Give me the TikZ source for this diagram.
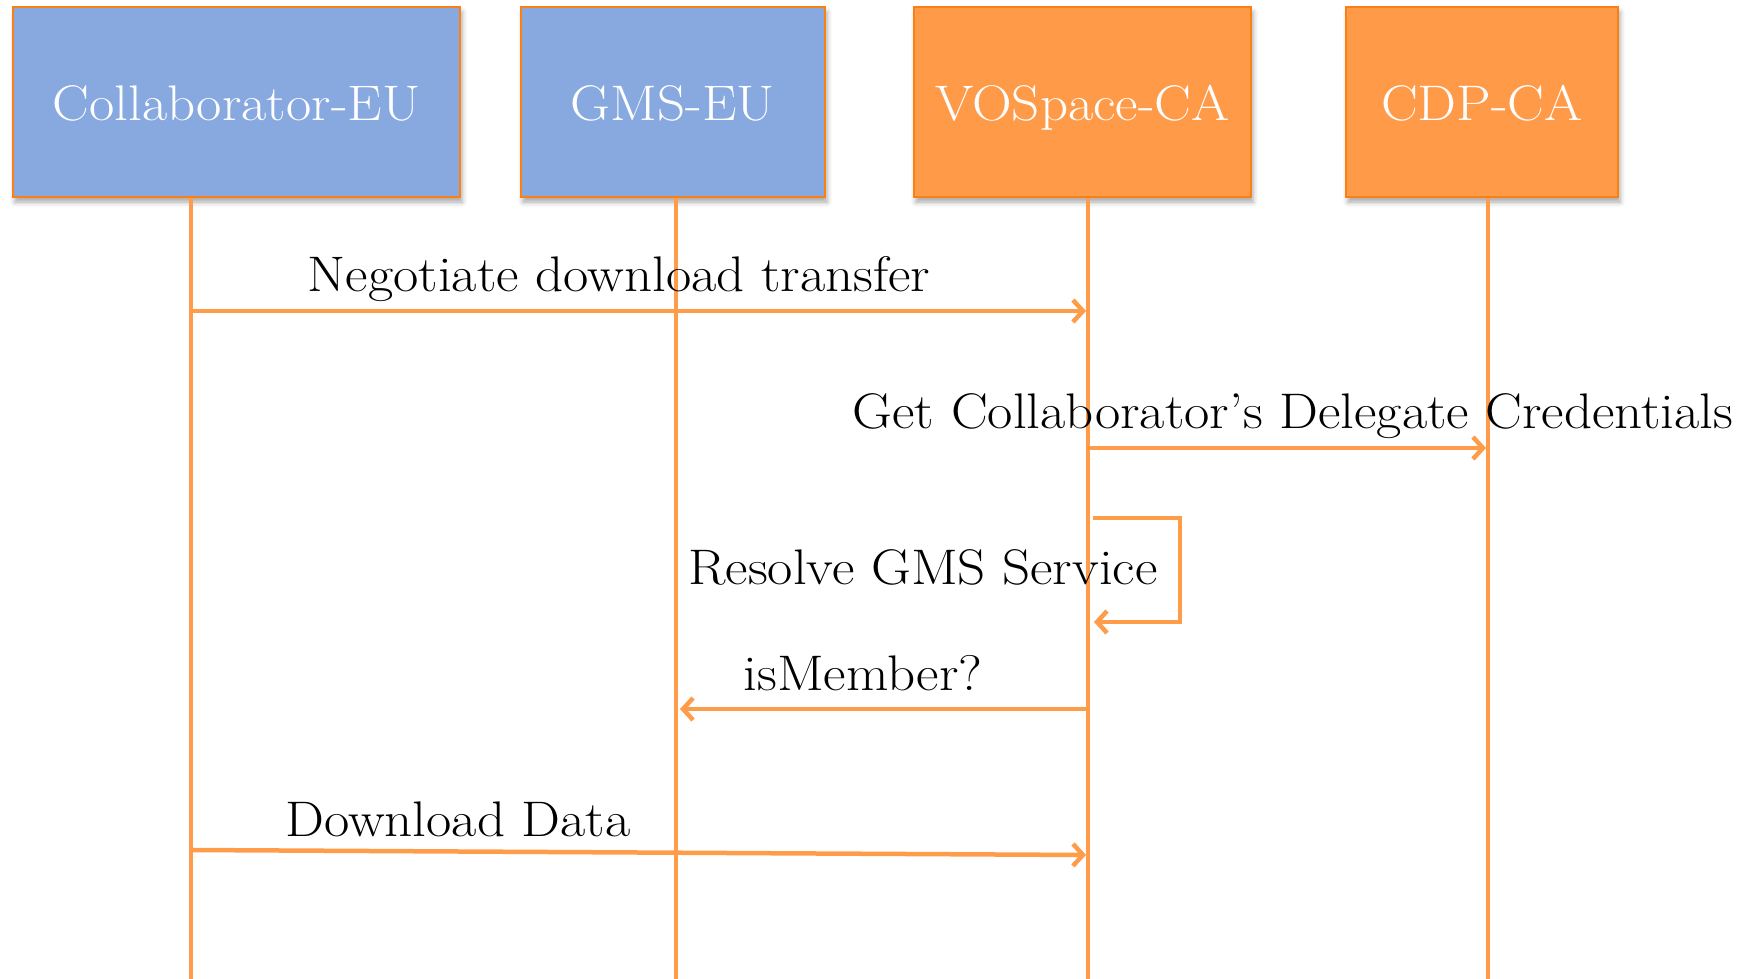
\documentclass[tikz,border=0pt]{standalone}
\usepackage{graphicx}
\usetikzlibrary{arrows.meta,shadows.blur}
\definecolor{actorblue}{RGB}{135,169,224}
\definecolor{actororange}{RGB}{255,154,72}
\definecolor{edgeorange}{RGB}{250,128,20}
\definecolor{lineorange}{RGB}{255,156,74}
% slightly widened serif text
\newcommand{\widetext}[1]{\scalebox{1.1}[1]{#1}}
\tikzset{
  actor/.style={draw=edgeorange, line width=2.5pt, minimum height=190pt,
    text=white, font=\fontsize{50}{54}\selectfont,
    text height=38pt, text depth=0pt,
    blur shadow={shadow xshift=2pt, shadow yshift=-5pt, shadow blur radius=5pt, shadow opacity=35}},
  lifeline/.style={draw=lineorange, line width=4.5pt},
  msg/.style={draw=lineorange, line width=4.5pt,
    -{Straight Barb[length=10pt,width=22pt,line width=4.5pt]}},
  msglabel/.style={font=\fontsize{50}{54}\selectfont, text=black, inner sep=0pt, anchor=base}
}
\begin{document}
\begin{tikzpicture}[x=1pt,y=-1pt]
  \useasboundingbox (0,0) rectangle (1743,979);

  % participants
  \node[actor, fill=actorblue,   minimum width=447pt] (collab) at (236.5,102) {\widetext{Collaborator-EU}};
  \node[actor, fill=actorblue,   minimum width=304pt] (gms)    at (673,102)   {\widetext{GMS-EU}};
  \node[actor, fill=actororange, minimum width=337pt] (vos)    at (1082.5,102){\widetext{VOSpace-CA}};
  \node[actor, fill=actororange, minimum width=272pt] (cdp)    at (1482,102)  {\widetext{CDP-CA}};

  % lifeline ends
  \coordinate (collabEnd) at (191,979);
  \coordinate (gmsEnd)    at (676,979);
  \coordinate (vosEnd)    at (1088,979);
  \coordinate (cdpEnd)    at (1488,979);

  % message anchors on the lifelines
  \coordinate (negA) at (191,311);
  \coordinate (negB) at (1086,311);
  \coordinate (credA) at (1088,448);
  \coordinate (credB) at (1486,448);
  \coordinate (resA) at (1093,518);
  \coordinate (resC1) at (1180,518);
  \coordinate (resC2) at (1180,622);
  \coordinate (resB) at (1094,622);
  \coordinate (memA) at (1088,709);
  \coordinate (memB) at (680,709);
  \coordinate (dlA) at (191,850);
  \coordinate (dlB) at (1086,855);

  % messages
  \draw[msg] (negA) -- (negB);
  \draw[msg] (credA) -- (credB);
  \draw[msg] (resA) -- (resC1) -- (resC2) -- (resB);
  \draw[msg] (memA) -- (memB);
  \draw[msg] (dlA) -- (dlB);

  % lifelines
  \draw[lifeline] (collabEnd |- collab.south) -- (collabEnd);
  \draw[lifeline] (gmsEnd |- gms.south)       -- (gmsEnd);
  \draw[lifeline] (vosEnd |- vos.south)       -- (vosEnd);
  \draw[lifeline] (cdpEnd |- cdp.south)       -- (cdpEnd);

  % message labels (placed on their baselines)
  \node[msglabel] (negL)  at (619,291)  {\widetext{Negotiate download transfer}};
  \node[msglabel] (credL) at (1293,428) {\widetext{Get Collaborator's Delegate Credentials}};
  \node[msglabel] (resL)  at (923,584)  {\widetext{Resolve GMS Service}};
  \node[msglabel] (memL)  at (863,690)  {\widetext{isMember?}};
  \node[msglabel] (dlL)   at (458,836)  {\widetext{Download Data}};
\end{tikzpicture}
\end{document}
